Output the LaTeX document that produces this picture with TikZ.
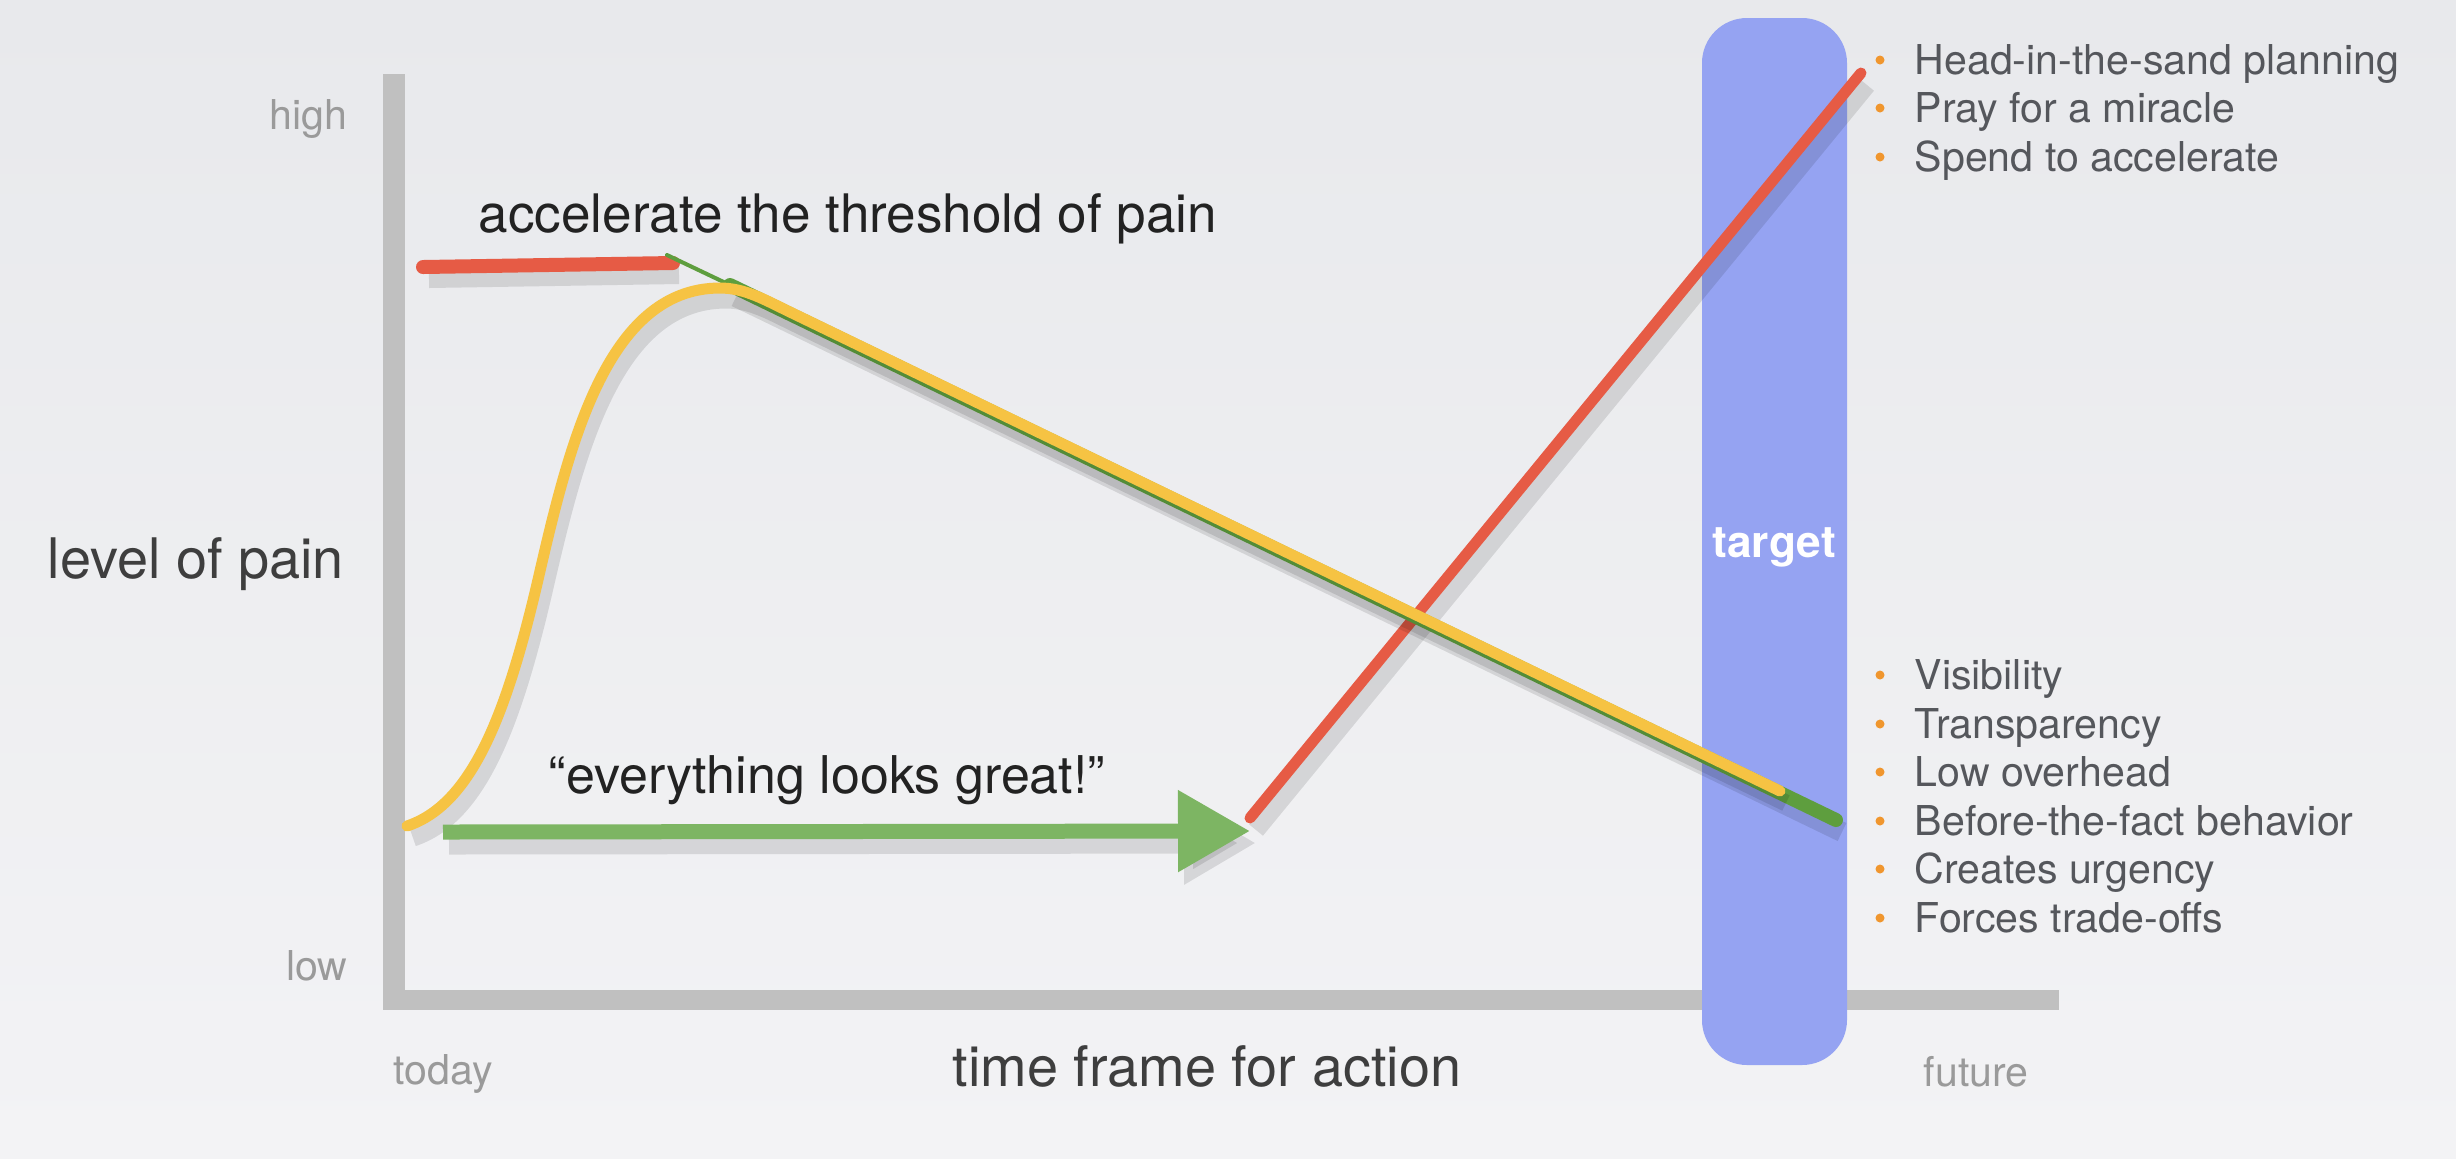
\documentclass[tikz,border=0pt]{standalone}
\usepackage{fontspec}
\setmainfont{TeX Gyre Heros}
\usetikzlibrary{arrows.meta, positioning, calc}
\definecolor{painRed}{HTML}{E65B45}
\definecolor{painYellow}{HTML}{F6C343}
\definecolor{painGreen}{HTML}{5E9E3E}
\definecolor{arrowGreen}{HTML}{7DB563}
\definecolor{targetBlue}{HTML}{95A3F2}
\definecolor{axisGray}{HTML}{C0C0C0}
\definecolor{bulletOrange}{HTML}{F0962E}
\definecolor{textDark}{HTML}{222222}
\definecolor{textMid}{HTML}{3E3E3E}
\definecolor{textList}{HTML}{55575C}
\definecolor{textLight}{HTML}{9A9A9A}
\definecolor{bgTop}{HTML}{E8E9EC}
\definecolor{bgBottom}{HTML}{F3F3F5}
\tikzset{
  strokeShadow/.style={preaction={draw=black, opacity=0.11, line width=#1,
      transform canvas={shift={(0.6mm,-1.2mm)}}}},
  strokeR/.style={draw=painRed, line width=1.1mm, line cap=round, strokeShadow=1.8mm},
  strokeY/.style={draw=painYellow, line width=1.1mm, line cap=round, line join=round},
  strokeG/.style={draw=painGreen, line width=1.4mm, line cap=round, strokeShadow=2mm},
  strokeArrow/.style={draw=arrowGreen, fill=arrowGreen, line width=1.5mm,
      -{Triangle[length=7.2mm, width=7.8mm]}, strokeShadow=2.1mm},
  bigLabel/.style={font=\fontsize{15.1pt}{18pt}\selectfont, inner sep=0pt},
  axisLabel/.style={font=\fontsize{15.9pt}{19pt}\selectfont, inner sep=0pt},
  smallLabel/.style={font=\fontsize{11.7pt}{14pt}\selectfont, inner sep=0pt},
}
\begin{document}
\begin{tikzpicture}[x=0.1mm, y=-0.1mm]
  \shade[top color=bgTop, bottom color=bgBottom] (0,0) rectangle (2456,1158);
  \useasboundingbox (0,0) rectangle (2456,1158);
  % axes
  \fill[axisGray] (383,74) rectangle (405,1010);
  \fill[axisGray] (383,990) rectangle (2059,1010);
  \node[smallLabel, text=textLight, anchor=base east] (high) at (348,129) {high};
  \node[smallLabel, text=textLight, anchor=base east] (low) at (348,980) {low};
  \node[smallLabel, text=textLight, anchor=base west] (today) at (393,1084) {today};
  \node[smallLabel, text=textLight, anchor=base west] (future) at (1923,1086) {future};
  \node[axisLabel, text=textMid, anchor=base west] (yLabel) at (47,578) {level of pain};
  \node[axisLabel, text=textMid, anchor=base west] (xLabel) at (952,1086) {time frame for action};
  % target band
  \fill[targetBlue, rounded corners=4.5mm] (1702,18) rectangle (1847,1065);
  \node[font=\bfseries\fontsize{12.6pt}{15pt}\selectfont, text=white, inner sep=0pt]
    (target) at (1774,547) {target};
  % strokes
  \coordinate (redS) at (423,267);
  \coordinate (redE) at (673,263);
  \coordinate (riseS) at (1250,818);
  \coordinate (riseE) at (1861,73);
  \coordinate (greenS) at (667,255);
  \coordinate (greenM) at (730,285);
  \coordinate (greenE) at (1836,820);
  \coordinate (flatS) at (443,832);
  \coordinate (flatE) at (1250,831);
  \coordinate (curveS) at (407,826);
  \coordinate (curveM) at (537,584);
  \coordinate (peak) at (720,288);
  \coordinate (curveE) at (1780,791);
  \draw[strokeR, line width=1.4mm] (redS) -- (redE);
  \draw[strokeR] (riseS) -- (riseE);
  \draw[draw=painGreen, line width=0.4mm, line cap=round] (greenS) -- (greenM);
  \draw[strokeG] (greenM) -- (greenE);
  \draw[strokeY, strokeShadow=1.7mm] (curveS) .. controls (470,805) and (505,720) .. (curveM)
    .. controls (568,450) and (605,288) .. (peak)
    .. controls (745,288) and (765,300) .. (790,312) -- (curveE);
  \draw[strokeArrow] (flatS) -- (flatE);
  \node[bigLabel, text=textDark, anchor=base west] (accelLabel) at (478,232)
    {accelerate the threshold of pain};
  \node[bigLabel, text=textDark, anchor=base west, font=\fontsize{14.8pt}{18pt}\selectfont]
    (greatLabel) at (548,793) {“everything looks great!”};
  % lists
  \foreach \y/\txt [count=\i] in {60/Head-in-the-sand planning, 108/Pray for a miracle,
      157/Spend to accelerate} {
    \fill[bulletOrange] (1880,\y) circle (0.45mm);
    \node[smallLabel, text=textList, anchor=base west] (risk\i) at (1914,\y+14) {\txt};
  }
  \foreach \y/\txt [count=\i] in {675/Visibility, 724/Transparency, 772/Low overhead,
      821/Before-the-fact behavior, 869/Creates urgency, 918/Forces trade-offs} {
    \fill[bulletOrange] (1880,\y) circle (0.45mm);
    \node[smallLabel, text=textList, anchor=base west] (gain\i) at (1914,\y+14) {\txt};
  }
\end{tikzpicture}
\end{document}
